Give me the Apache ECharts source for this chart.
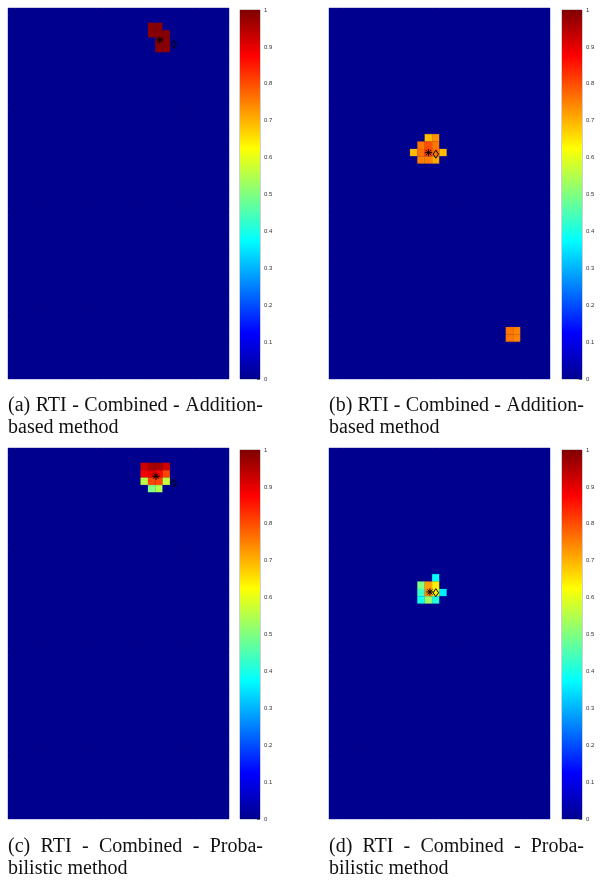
<!DOCTYPE html>
<html><head><meta charset="utf-8">
<script src="https://cdn.jsdelivr.net/npm/echarts@6/dist/echarts.min.js"></script>
<style>html,body{margin:0;padding:0;background:#fff}#c{width:600px;height:881px}</style>
</head><body><div id="c"></div>
<script>
// ---------- data ----------
const NCOLS = 30, NROWS = 50;
// hot cells as [col, row, value]; every other cell of the map is 0
const cellsA = [[19,2,0.99],[20,2,0.99],[19,3,0.99],[20,3,0.99],[21,3,0.99],[20,4,0.99],[21,4,0.99],[20,5,0.99],[21,5,0.99]];
const cellsB = [[13,17,0.69],[14,17,0.73],
                [12,18,0.76],[13,18,0.80],[14,18,0.76],
                [11,19,0.69],[12,19,0.77],[13,19,0.82],[14,19,0.77],[15,19,0.69],
                [12,20,0.75],[13,20,0.75],[14,20,0.71],
                [24,43,0.76],[25,43,0.745],[24,44,0.76],[25,44,0.745]];
const cellsC = [[18,2,0.92],[19,2,0.96],[20,2,0.96],[21,2,0.92],
                [18,3,0.88],[19,3,0.90],[20,3,0.87],[21,3,0.81],
                [18,4,0.56],[19,4,0.81],[20,4,0.81],[21,4,0.57],
                [19,5,0.50],[20,5,0.55]];
const cellsD = [[14,17,0.38],
                [12,18,0.50],[13,18,0.72],[14,18,0.64],
                [12,19,0.43],[13,19,0.74],[14,19,0.64],[15,19,0.36],
                [12,20,0.39],[13,20,0.53],[14,20,0.41]];
// markers: [x, y, kind]  kind 0 = estimate (asterisk), 1 = true position (diamond)
const markersA = [[20.6,4.3,0],[22.5,4.9,1]];
const markersB = [[13.5,19.5,0],[14.5,19.7,1]];
const markersC = [[20.1,3.8,0],[22.5,4.7,1]];
const markersD = [[13.7,19.4,0],[14.5,19.5,1]];
const colorbarMax = [1];
const captionLine1 = ["(a) RTI - Combined - Addition-", "(b) RTI - Combined - Addition-", "(c) RTI - Combined - Proba-", "(d) RTI - Combined - Proba-"];
const captionLine2 = ["based method", "based method", "bilistic method", "bilistic method"];

// jet colormap stops (0, .125, ..., 1)
const jet = ['#00008F','#0000FF','#0080FF','#00FFFF','#80FF80','#FFFF00','#FF8000','#FF0000','#800000'];

// ---------- layout ----------
const panels = [
  {hx:8,   hy:8,   cx:240, cy:10},
  {hx:329, hy:8,   cx:562, cy:10},
  {hx:8,   hy:448, cx:240, cy:450},
  {hx:329, hy:448, cx:562, cy:450}
];
const HW = 221, HH = 371, CW = 20, CH = 369;

function fullGrid(hot){
  const m = {};
  hot.forEach(h => { m[h[0]+','+h[1]] = h[2]; });
  const out = [];
  for (let r = 0; r < NROWS; r++) for (let c = 0; c < NCOLS; c++) out.push([c, r, m[c+','+r] || 0]);
  return out;
}
const allCells = [cellsA, cellsB, cellsC, cellsD];
const allMarkers = [markersA, markersB, markersC, markersD];

const grids = [], xAxes = [], yAxes = [], series = [];
panels.forEach((p, i) => {
  grids.push({left:p.hx, top:p.hy, width:HW, height:HH, show:true, borderColor:'#c4c4dc', borderWidth:1, backgroundColor:'#00008F', containLabel:false});
  xAxes.push({type:'value', gridIndex:i, min:0, max:NCOLS, show:false});
  yAxes.push({type:'value', gridIndex:i, min:0, max:NROWS, inverse:true, show:false});
});
panels.forEach((p, i) => {
  grids.push({left:p.cx, top:p.cy, width:CW, height:CH, show:true, borderColor:'#8a8a8a', borderWidth:0.8});
  xAxes.push({type:'category', gridIndex:4+i, data:['cb'], show:false});
  yAxes.push({type:'value', gridIndex:4+i, min:0, max:1, interval:0.1, position:'right',
    axisLine:{show:false}, splitLine:{show:false},
    axisTick:{show:true, inside:true, length:3, lineStyle:{color:'#444', width:0.8}},
    axisLabel:{fontSize:6, color:'#333', margin:4, fontFamily:'"Liberation Sans", Arial'}});
});
const heatIdx = [];
panels.forEach((p, i) => {
  heatIdx.push(series.length);
  series.push({type:'custom', xAxisIndex:i, yAxisIndex:i, silent:true, data:fullGrid(allCells[i]),
    encode:{x:0, y:1}, dimensions:['c','r','v'],
    renderItem:(params, api) => {
      const a = api.coord([api.value(0), api.value(1)]);
      const b = api.coord([api.value(0)+1, api.value(1)+1]);
      const col = api.visual('color');
      return {type:'rect', shape:{x:Math.min(a[0],b[0]), y:Math.min(a[1],b[1]), width:Math.abs(b[0]-a[0]), height:Math.abs(b[1]-a[1])},
        style:{fill:col, stroke:col, lineWidth:0.2}};
    }});
  series.push({type:'custom', xAxisIndex:i, yAxisIndex:i, silent:true, data:allMarkers[i], encode:{x:0, y:1}, z:5,
    renderItem:(params, api) => {
      const q = api.coord([api.value(0), api.value(1)]);
      const kind = api.value(2);
      if (kind === 0) {
        const s = 3.6, d = 2.6;
        const ln = (x1,y1,x2,y2) => ({type:'line', shape:{x1:q[0]+x1, y1:q[1]+y1, x2:q[0]+x2, y2:q[1]+y2}, style:{stroke:'#000', lineWidth:1}});
        return {type:'group', children:[ln(-s,0,s,0), ln(0,-s,0,s), ln(-d,-d,d,d), ln(-d,d,d,-d)]};
      }
      return {type:'polygon', shape:{points:[[q[0],q[1]-4],[q[0]+2.7,q[1]],[q[0],q[1]+4],[q[0]-2.7,q[1]]]},
        style:{fill:null, stroke:'#000', lineWidth:1}};
    }});
});
panels.forEach((p, i) => {
  series.push({type:'bar', xAxisIndex:4+i, yAxisIndex:4+i, silent:true, data:colorbarMax, barWidth:'100%',
    itemStyle:{color:{type:'linear', x:0, y:1, x2:0, y2:0,
      colorStops: jet.map((c, k) => ({offset:k/(jet.length-1), color:c}))}}});
});

// ---------- captions (justified first line) ----------
const FS = 20, FONT = FS + 'px "Liberation Serif", "Times New Roman", serif';
const mctx = document.createElement('canvas').getContext('2d');
mctx.font = FONT;
const CAPW = 255;
const graphics = [];
const capY = [[406, 428], [406, 428], [847, 869], [847, 869]];
panels.forEach((p, i) => {
  const words = captionLine1[i].split(' ');
  const ws = words.map(w => mctx.measureText(w).width);
  const total = ws.reduce((s, v) => s + v, 0);
  const gap = (CAPW - total) / (words.length - 1);
  let x = p.hx;
  words.forEach((w, k) => {
    graphics.push({type:'text', x:x, y:capY[i][0], silent:true,
      style:{text:w, font:FONT, fill:'#111', textVerticalAlign:'middle', verticalAlign:'middle'}});
    x += ws[k] + gap;
  });
  graphics.push({type:'text', x:p.hx, y:capY[i][1], silent:true,
    style:{text:captionLine2[i], font:FONT, fill:'#111', textVerticalAlign:'middle', verticalAlign:'middle'}});
});

const chart = echarts.init(document.getElementById('c'), null, {renderer:'canvas'});
chart.setOption({
  animation:false,
  backgroundColor:'#ffffff',
  grid:grids, xAxis:xAxes, yAxis:yAxes,
  visualMap:{type:'continuous', show:false, min:0, max:1, dimension:2, seriesIndex:heatIdx, inRange:{color:jet}},
  series:series,
  graphic:graphics
});
</script></body></html>
